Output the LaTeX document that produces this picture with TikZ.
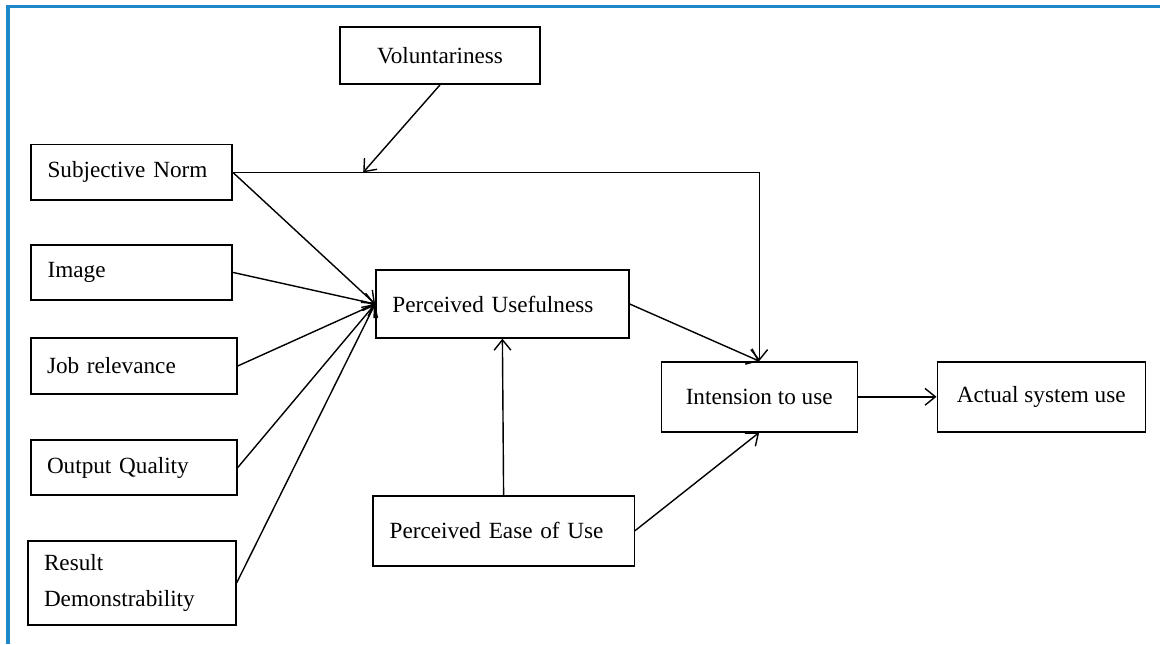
\documentclass[tikz,border=0pt]{standalone}
\usepackage{fontspec}
\setmainfont{Liberation Serif}
\usepackage{xcolor}
\usepackage{tikz}
\usetikzlibrary{arrows.meta}
\definecolor{framblue}{HTML}{1E88C8}

\begin{document}
\begin{tikzpicture}[every node/.style={draw,line width=1pt,inner sep=0pt,font=\fontsize{16.5}{26}\selectfont},
 lbox/.style={align=left,text width=#1},
 cbox/.style={align=center},
 link/.style={-{Straight Barb[length=2.6mm,width=4.2mm]},line width=1pt}]
\useasboundingbox (0,0) rectangle (29,16.1);
\draw[framblue,line width=2.2pt] (0.2,0) -- (0.2,15.93) -- (29,15.93);

\path (11.0,14.71) node[cbox,minimum width=5.0cm,minimum height=1.43cm](vol){Voluntariness};
\path (3.29,11.79) node[lbox=4.2cm,minimum width=5.03cm,minimum height=1.38cm](sn){Subjective Norm}
      (3.29,9.29) node[lbox=4.2cm,minimum width=5.03cm,minimum height=1.38cm](img){Image}
      (3.35,6.95) node[lbox=4.35cm,minimum width=5.15cm,minimum height=1.4cm](job){Job relevance}
      (3.35,4.41) node[lbox=4.35cm,minimum width=5.15cm,minimum height=1.38cm](oq){Output Quality}
      (3.30,1.53) node[lbox=4.4cm,minimum width=5.2cm,minimum height=2.1cm](rd){Result\\Demonstrability};
\path (12.56,8.5) node[lbox=5.5cm,minimum width=6.33cm,minimum height=1.7cm](pu){Perceived Usefulness}
      (12.59,2.83) node[lbox=5.7cm,minimum width=6.53cm,minimum height=1.75cm](peu){Perceived Ease of Use};
\path (18.98,6.18) node[cbox,minimum width=4.9cm,minimum height=1.75cm](int){Intension to use}
      (26.03,6.18) node[cbox,minimum width=5.2cm,minimum height=1.75cm](act){Actual system use};
\coordinate (vj) at (9.08,11.79);

\draw[link] (sn.east) -| (int.north);
\draw[link] (vol.south) -- (vj);
\draw[link] (sn.east) -- (pu.west);
\draw[link] (img.east) -- (pu.west);
\draw[link] (job.east) -- (pu.west);
\draw[link] (oq.east) -- (pu.west);
\draw[link] (rd.east) -- (pu.west);
\draw[link] (pu.east) -- (int.north);
\draw[link] (peu.north) -- (pu.south);
\draw[link] (peu.east) -- (int.south);
\draw[link] (int.east) -- (act.west);
\end{tikzpicture}
\end{document}
